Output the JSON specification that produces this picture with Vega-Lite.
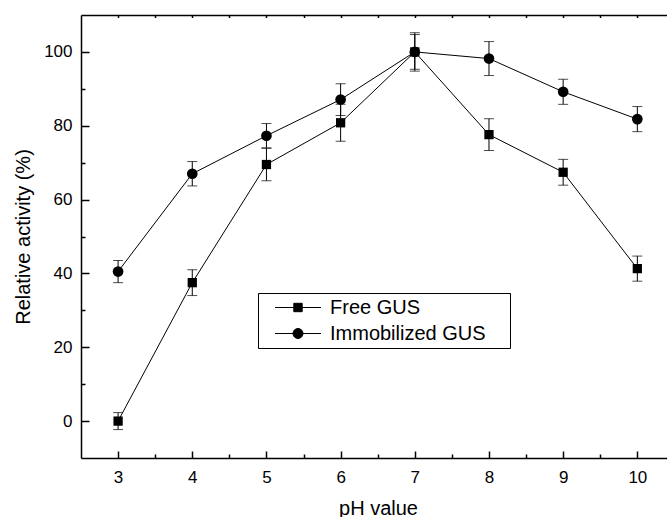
{
  "$schema": "https://vega.github.io/schema/vega-lite/v6.json",
  "width": 586,
  "height": 443,
  "autosize": {"type": "none"},
  "padding": {"left": 81, "top": 15, "right": 0, "bottom": 59},
  "background": "white",
  "config": {
    "view": {"stroke": null},
    "font": "Liberation Sans",
    "axis": {
      "grid": false,
      "labelFont": "Liberation Sans",
      "titleFont": "Liberation Sans",
      "labelColor": "black",
      "titleColor": "black",
      "titleFontWeight": "normal",
      "domainColor": "black",
      "tickColor": "black",
      "domainWidth": 1.5,
      "tickWidth": 1.5,
      "labelOverlap": false,
      "labelFlush": false
    },
    "legend": {"labelFont": "Liberation Sans"}
  },
  "data": {
    "values": [
      {"ph": 3, "series": "Free GUS", "value": 0, "err": 2.3},
      {"ph": 4, "series": "Free GUS", "value": 37.5, "err": 3.5},
      {"ph": 5, "series": "Free GUS", "value": 69.5, "err": 4.4},
      {"ph": 6, "series": "Free GUS", "value": 80.8, "err": 5},
      {"ph": 7, "series": "Free GUS", "value": 100, "err": 5.2},
      {"ph": 8, "series": "Free GUS", "value": 77.6, "err": 4.3},
      {"ph": 9, "series": "Free GUS", "value": 67.4, "err": 3.5},
      {"ph": 10, "series": "Free GUS", "value": 41.3, "err": 3.4},
      {"ph": 3, "series": "Immobilized GUS", "value": 40.5, "err": 3},
      {"ph": 4, "series": "Immobilized GUS", "value": 67, "err": 3.3},
      {"ph": 5, "series": "Immobilized GUS", "value": 77.3, "err": 3.3},
      {"ph": 6, "series": "Immobilized GUS", "value": 87.1, "err": 4.3},
      {"ph": 7, "series": "Immobilized GUS", "value": 100, "err": 4.7},
      {"ph": 8, "series": "Immobilized GUS", "value": 98.2, "err": 4.6},
      {"ph": 9, "series": "Immobilized GUS", "value": 89.2, "err": 3.4},
      {"ph": 10, "series": "Immobilized GUS", "value": 81.8, "err": 3.4}
    ]
  },
  "layer": [
    {
      "mark": {"type": "errorbar", "color": "black", "ticks": {"size": 10, "color": "black", "thickness": 1}, "rule": {"strokeWidth": 1}},
      "encoding": {
        "x": {
          "field": "ph", "type": "quantitative",
          "scale": {"domain": [2.5, 10.4], "nice": false, "zero": false},
          "axis": {"orient": "bottom", "values": [3, 4, 5, 6, 7, 8, 9, 10], "tickSize": -7, "labelPadding": 18, "labelFontSize": 17, "title": "pH value", "titleFontSize": 20, "titleX": 297, "titleY": 40}
        },
        "y": {
          "field": "value", "type": "quantitative",
          "scale": {"domain": [-10, 110], "nice": false, "zero": false},
          "axis": {"orient": "left", "values": [0, 20, 40, 60, 80, 100], "tickSize": -8, "labelPadding": 17, "labelFontSize": 17, "title": "Relative activity (%)", "titleFontSize": 20, "titleX": -48}
        },
        "yError": {"field": "err"}
      }
    },
    {
      "mark": {"type": "line", "color": "black", "strokeWidth": 1},
      "encoding": {
        "x": {
          "field": "ph", "type": "quantitative",
          "scale": {"domain": [2.5, 10.4], "nice": false, "zero": false},
          "axis": {"orient": "bottom", "values": [3.5, 4.5, 5.5, 6.5, 7.5, 8.5, 9.5], "tickSize": -4, "labels": false, "domain": false, "title": null}
        },
        "y": {
          "field": "value", "type": "quantitative",
          "scale": {"domain": [-10, 110], "nice": false, "zero": false},
          "axis": {"orient": "left", "values": [10, 30, 50, 70, 90], "tickSize": -4, "labels": false, "domain": false, "title": null}
        },
        "detail": {"field": "series", "type": "nominal"}
      }
    },
    {
      "mark": {"type": "point", "filled": true, "color": "black", "opacity": 1},
      "encoding": {
        "x": {
          "field": "ph", "type": "quantitative",
          "scale": {"domain": [2.5, 10.4], "nice": false, "zero": false},
          "axis": {"orient": "top", "values": [3, 3.5, 4, 4.5, 5, 5.5, 6, 6.5, 7, 7.5, 8, 8.5, 9, 9.5, 10], "tickSize": -2.5, "labels": false, "domain": true, "title": null}
        },
        "y": {
          "field": "value", "type": "quantitative",
          "scale": {"domain": [-10, 110], "nice": false, "zero": false},
          "axis": null
        },
        "shape": {"field": "series", "type": "nominal", "scale": {"domain": ["Free GUS", "Immobilized GUS"], "range": ["square", "circle"]}, "legend": null},
        "size": {"field": "series", "type": "nominal", "scale": {"domain": ["Free GUS", "Immobilized GUS"], "range": [86, 114]}, "legend": null}
      }
    },
    {
      "mark": {"type": "point", "filled": true, "color": "black", "stroke": "black", "strokeWidth": 1, "size": 400, "opacity": 0},
      "encoding": {
        "x": {"field": "ph", "type": "quantitative", "scale": {"domain": [2.5, 10.4], "nice": false, "zero": false}, "axis": null},
        "y": {"field": "value", "type": "quantitative", "scale": {"domain": [-10, 110], "nice": false, "zero": false}, "axis": null},
        "shape": {
          "field": "series", "type": "nominal",
          "scale": {"domain": ["Free GUS", "Immobilized GUS"], "range": [
            "M-1.05,0M0.25,0H4.85M2.13,-0.42H2.97V0.42H2.13ZM23.15,0",
            "M-1.05,0M0.25,0H4.85M2.05,0A0.5,0.5 0 1,0 3.05,0A0.5,0.5 0 1,0 2.05,0ZM23.15,0"
          ]},
          "legend": {
            "orient": "none", "legendX": 177, "legendY": 278, "title": null,
            "labelFontSize": 20, "labelColor": "black", "labelOffset": 47, "labelLimit": 400,
            "rowPadding": 5, "padding": 4, "strokeColor": "black", "fillColor": "white",
            "symbolSize": 400, "symbolStrokeWidth": 1, "symbolOffset": 0,
            "encode": {"symbols": {"update": {"opacity": {"value": 1}, "fill": {"value": "black"}, "stroke": {"value": "black"}, "strokeWidth": {"value": 1}}}}
          }
        }
      }
    }
  ],
  "resolve": {
    "scale": {"shape": "independent", "size": "independent"},
    "axis": {"x": "independent", "y": "independent"}
  }
}
